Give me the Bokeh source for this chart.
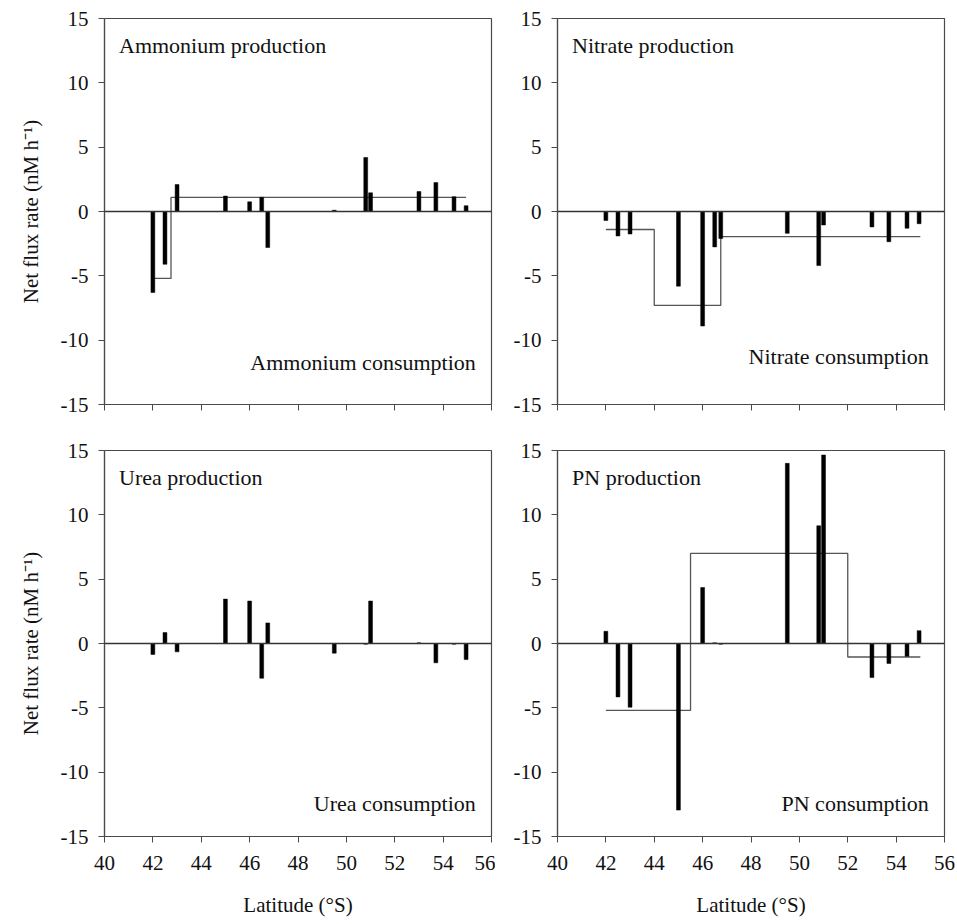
from bokeh.plotting import figure
from bokeh.layouts import column, row
from bokeh.models import Range1d, Span, Label, FixedTicker
from bokeh.embed import file_html
from bokeh.resources import INLINE

# ---- data ----
latitude = [42.0, 42.5, 43.0, 45.0, 46.0, 46.5, 46.75, 49.5, 50.8, 51.0, 53.0, 53.7, 54.45, 54.95]

ammonium = [-6.3, -4.1, 2.1, 1.2, 0.75, 1.1, -2.8, 0.1, 4.2, 1.45, 1.55, 2.25, 1.15, 0.45]
ammonium_step_edges = [42.05, 42.75, 54.95]
ammonium_step_means = [-5.2, 1.1]

nitrate = [-0.7, -1.9, -1.75, -5.8, -8.9, -2.75, -2.1, -1.7, -4.2, -1.05, -1.2, -2.35, -1.3, -0.95]
nitrate_step_edges = [42.0, 44.0, 46.75, 55.0]
nitrate_step_means = [-1.4, -7.3, -1.95]

urea = [-0.85, 0.85, -0.65, 3.45, 3.3, -2.7, 1.6, -0.75, -0.05, 3.3, 0.05, -1.5, -0.05, -1.25]

pn = [0.95, -4.15, -4.95, -12.95, 4.35, 0.05, -0.05, 14.0, 9.15, 14.65, -2.65, -1.55, -1.0, 1.0]
pn_step_edges = [42.0, 45.5, 52.0, 55.0]
pn_step_means = [-5.2, 7.0, -1.05]

x_ticks = [40, 42, 44, 46, 48, 50, 52, 54, 56]
y_ticks = [-15, -10, -5, 0, 5, 10, 15]

FONT = "Liberation Serif"
AX = "#4a4a4a"


def make_panel(vals, edges, means, top_text, bottom_text, bottom_y, ylabel, xlabels,
               bl, br, bt, bb):
    p = figure(frame_width=387, frame_height=386,
               x_range=Range1d(40, 56), y_range=Range1d(-15, 15),
               output_backend="svg", toolbar_location=None,
               min_border_left=bl, min_border_right=br,
               min_border_top=bt, min_border_bottom=bb)
    p.grid.visible = False
    p.outline_line_color = AX
    p.outline_line_width = 1.2
    p.background_fill_color = "white"
    p.border_fill_color = "white"

    for ax in (p.xaxis[0], p.yaxis[0]):
        ax.axis_line_color = AX
        ax.axis_line_width = 1.2
        ax.major_tick_line_color = AX
        ax.major_tick_in = 0
        ax.major_tick_out = 6
        ax.minor_tick_line_color = None
        ax.major_label_text_font = FONT
        ax.major_label_text_font_size = "21px"
        ax.major_label_text_color = "#111111"
        ax.axis_label_text_font = FONT
        ax.axis_label_text_font_size = "21px"
        ax.axis_label_text_font_style = "normal"
        ax.axis_label_text_color = "#111111"

    p.xaxis.ticker = FixedTicker(ticks=x_ticks)
    p.yaxis.ticker = FixedTicker(ticks=y_ticks)
    p.yaxis.major_label_overrides = {t: str(t) for t in y_ticks}
    p.yaxis.major_label_standoff = 10
    p.xaxis.major_label_standoff = 13

    if ylabel:
        p.yaxis.axis_label = "Net flux rate (nM h\u207b\u00b9)"
        p.yaxis.axis_label_standoff = 15
    if xlabels:
        p.xaxis.axis_label = "Latitude (\u00b0S)"
        p.xaxis.axis_label_standoff = 20
    else:
        p.xaxis.major_label_overrides = {t: "" for t in x_ticks}

    p.add_layout(Span(location=0, dimension="width", line_color="#333333",
                      line_width=1.5))

    if edges is not None:
        xs = list(edges)
        ys = list(means) + [means[-1]]
        p.step(xs, ys, mode="after", line_color="#555555", line_width=1.3)

    p.vbar(x=latitude, top=vals, bottom=0, width=0.16,
           fill_color="black", line_color="black", line_width=0.5)

    p.add_layout(Label(x=40.6, y=12.9, text=top_text, text_font=FONT,
                       text_font_size="22px", text_color="#111111",
                       text_baseline="alphabetic", text_align="left"))
    p.add_layout(Label(x=55.35, y=bottom_y, text=bottom_text, text_font=FONT,
                       text_font_size="22px", text_color="#111111",
                       text_baseline="alphabetic", text_align="right"))
    return p


p1 = make_panel(ammonium, ammonium_step_edges, ammonium_step_means,
                "Ammonium production", "Ammonium consumption", -11.7, True, False,
                104, 4, 18, 30)
p2 = make_panel(nitrate, nitrate_step_edges, nitrate_step_means,
                "Nitrate production", "Nitrate consumption", -11.3, False, False,
                62, 13, 18, 30)
p3 = make_panel(urea, None, None,
                "Urea production", "Urea consumption", -12.4, True, True,
                104, 4, 16, 72)
p4 = make_panel(pn, pn_step_edges, pn_step_means,
                "PN production", "PN consumption", -12.4, False, True,
                62, 13, 16, 72)

layout = column(row(p1, p2), row(p3, p4))

open("out.html", "w").write(file_html(layout, INLINE))
